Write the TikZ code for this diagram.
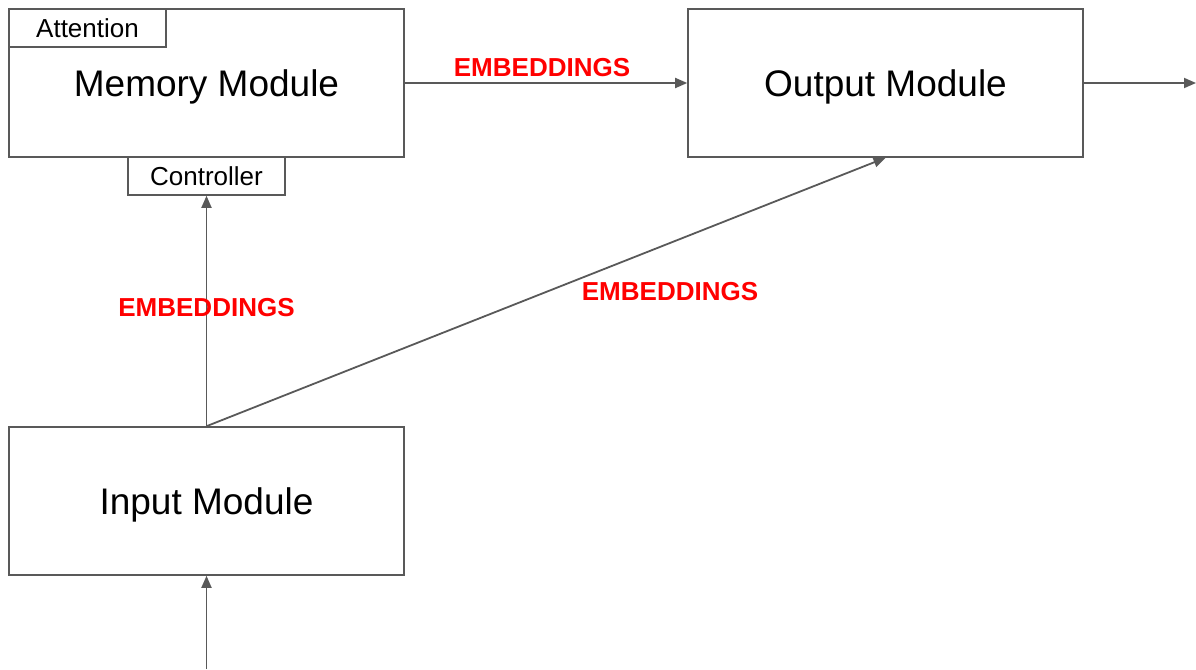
\documentclass[tikz,border=0pt]{standalone}
\usepackage{fontspec}
\setmainfont{Liberation Sans}
\usetikzlibrary{arrows.meta}
\definecolor{linegray}{HTML}{595959}
\definecolor{boxgray}{HTML}{595959}
\definecolor{labred}{HTML}{FF0000}
\begin{document}
\begin{tikzpicture}[x=1pt,y=-1pt,
  modbox/.style={draw=boxgray,line width=1.6pt,fill=white,minimum width=395pt,minimum height=148pt,inner sep=0pt,text depth=0pt,font=\fontsize{37}{44}\selectfont},
  tabbox/.style={draw=boxgray,line width=1.6pt,fill=white,minimum width=157pt,minimum height=38pt,inner sep=0pt,font=\fontsize{26}{31}\selectfont},
  conn/.style={draw=linegray,line width=1.8pt,-{Triangle[length=12pt,width=10pt]}},
  emb/.style={text=labred,font=\bfseries\fontsize{26}{31}\selectfont,inner sep=0pt}]
\useasboundingbox (0,0) rectangle (1196,669);
\node[modbox] (mem) at (206.5,83) {Memory Module};
\node[tabbox] (att) at (87.5,28) {Attention};
\node[tabbox] (ctl) at (206.5,176) {Controller};
\node[modbox] (out) at (885.5,83) {Output Module};
\node[modbox] (inp) at (206.5,501) {Input Module};
\coordinate (rend) at (1196,83);
\coordinate (bstart) at (206.5,669);
\draw[conn] (mem.east) -- (out.west);
\draw[conn] (out.east) -- (rend);
\draw[conn] (bstart) -- (inp.south);
\draw[conn] (inp.north) -- (ctl.south);
\draw[conn] (inp.north) -- (out.south);
\node[emb] (e1) at (542,68) {EMBEDDINGS};
\node[emb] (e2) at (206.5,308) {EMBEDDINGS};
\node[emb] (e3) at (670,292) {EMBEDDINGS};
\end{tikzpicture}
\end{document}
